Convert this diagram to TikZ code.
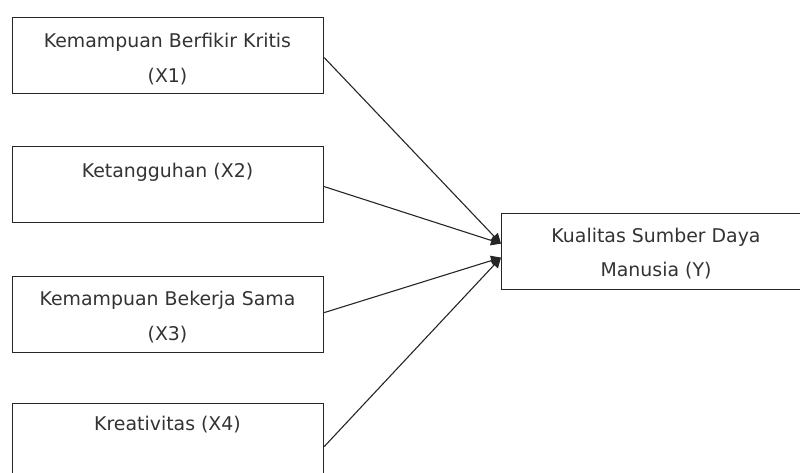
\documentclass[tikz,border=0pt]{standalone}
\usepackage{fontspec}
\setmainfont{DejaVu Sans}
\usetikzlibrary{arrows.meta}
\begin{document}
\begin{tikzpicture}[x=1pt,y=-1pt,
  vbox/.style={draw=black!85,line width=1.2pt,minimum width=311pt,minimum height=76pt,inner sep=0pt},
  ybox/.style={draw=black!85,line width=1.2pt,minimum width=310pt,minimum height=76pt,inner sep=0pt},
  lbl/.style={font=\fontsize{18.9}{22}\selectfont,text=black!80,inner sep=0pt},
  conn/.style={draw=black!85,line width=1.1pt,-{Triangle[length=10pt,width=10pt]}}]
\useasboundingbox (0,0) rectangle (800,473);
\clip (0,0) rectangle (800,473);
\node[vbox,anchor=north west] (b1) at (12,17) {};
\node[vbox,anchor=north west] (b2) at (12,146) {};
\node[vbox,anchor=north west] (b3) at (12,276) {};
\node[vbox,anchor=north west] (b4) at (12,403) {};
\node[ybox,anchor=north west] (y) at (501,213) {};
\node[lbl] (t1a) at (167.5,42) {Kemampuan Berfikir Kritis};
\node[lbl] (t1b) at (167.5,77) {(X1)};
\node[lbl] (t2a) at (167.5,172) {Ketangguhan (X2)};
\node[lbl] (t3a) at (167.5,300) {Kemampuan Bekerja Sama};
\node[lbl] (t3b) at (167.5,335) {(X3)};
\node[lbl] (t4a) at (167.5,425) {Kreativitas (X4)};
\node[lbl] (tya) at (656,237) {Kualitas Sumber Daya};
\node[lbl] (tyb) at (656,271) {Manusia (Y)};
\coordinate (p1) at ([yshift=8pt]y.west);
\coordinate (p2) at ([yshift=-6pt]y.west);
\draw[conn] ([yshift=-2pt]b1.east) -- (p1);
\draw[conn] ([yshift=-2pt]b2.east) -- (p1);
\draw[conn] ([yshift=2pt]b3.east) -- (p2);
\draw[conn] ([yshift=-5pt]b4.east) -- (p2);
\end{tikzpicture}
\end{document}
